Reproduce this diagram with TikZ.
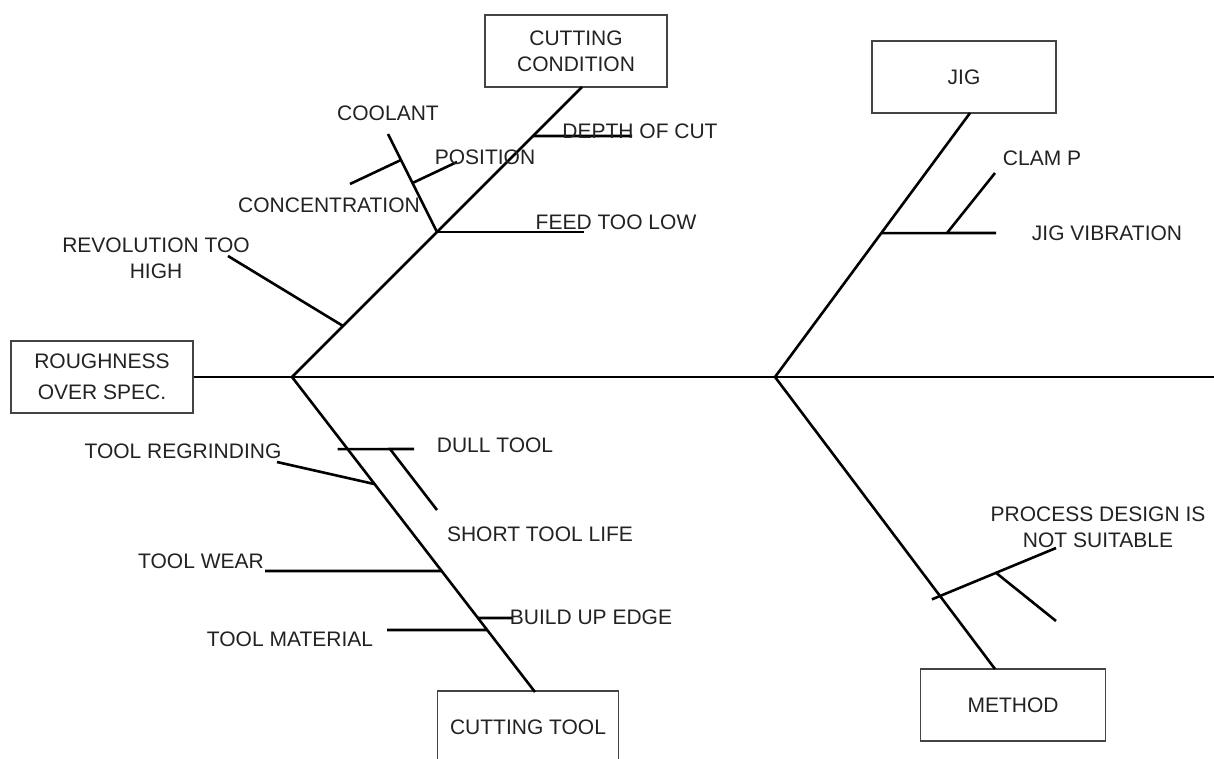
\documentclass[tikz,border=0pt]{standalone}
\usepackage{fontspec}
\setmainfont{Liberation Sans}
\usepackage{xcolor}
\usetikzlibrary{calc,positioning}
\definecolor{color_text_default}{HTML}{222222}
\definecolor{color_box_default}{HTML}{444444}

\tikzset{
	causebox/.style={draw=color_box_default,line width=1.1pt,minimum width=182,minimum height=72,align=center,inner sep=0pt,text=color_text_default},
	bone/.style={line width=2.6pt,black},
	lbl/.style={align=center,inner sep=0pt,text=color_text_default},
}

\begin{document}
\begin{tikzpicture}[x=1pt,y=-1pt,every node/.style={font=\fontsize{21}{26}\selectfont}]
				\useasboundingbox (0, 0) rectangle (1214, 759);
				% Boxes
				\node[causebox,font=\fontsize{21}{31}\selectfont] (effect) at (102, 377) {ROUGHNESS\\OVER SPEC.};
				\node[causebox] (cond) at (576, 51) {CUTTING\\CONDITION};
				\node[causebox,minimum width=184] (jig) at (964, 77) {JIG};
				\node[causebox,minimum width=181] (tool) at (528, 727) {CUTTING TOOL};
				\node[causebox,minimum width=185] (method) at (1013, 705) {METHOD};

				% Points
				\coordinate (J1) at (292, 377);
				\coordinate (J2) at (775, 377);
				\coordinate (TAIL) at (1214, 377);
				\coordinate (CCtop) at (582, 87);
				\coordinate (JGtop) at (970, 113);
				\coordinate (CTbot) at (535, 692);
				\coordinate (MEbot) at (995, 669);

				% Backbone
				\draw[bone] (effect.east) -- (TAIL);
				\draw[bone] (J1) -- (CCtop);
				\draw[bone] (J1) -- (CTbot);
				\draw[bone] (J2) -- (JGtop);
				\draw[bone] (J2) -- (MEbot);

				% Cutting condition
				\coordinate (REV) at ($(J1)!0.176!(CCtop)$);
				\coordinate (FEED) at ($(J1)!0.5!(CCtop)$);
				\coordinate (DEP) at ($(J1)!0.831!(CCtop)$);
				\coordinate (COOL) at (388, 134);
				\coordinate (CONC) at ($(FEED)!0.735!(COOL)$);
				\coordinate (POS) at ($(FEED)!0.5!(COOL)$);
				\draw[bone] (REV) -- (228, 256);
				\draw[bone] (FEED) -- (584, 232);
				\draw[bone] (DEP) -- (632, 136);
				\draw[bone] (FEED) -- (COOL);
				\draw[bone] (CONC) -- (350, 184);
				\draw[bone] (POS) -- (457, 162);
				\node[lbl] (coolant) at (388, 113) {COOLANT};
				\node[lbl] (position) at (485, 157) {POSITION};
				\node[lbl] (concentration) at (329, 205) {CONCENTRATION};
				\node[lbl] (depth) at (640, 131) {DEPTH OF CUT};
				\node[lbl] (feed) at (616, 222) {FEED TOO LOW};
				\node[lbl] (revolution) at (156, 258) {REVOLUTION TOO\\HIGH};

				% Jig
				\coordinate (VIB) at ($(J2)!0.545!(JGtop)$);
				\coordinate (CLP) at (947, 233);
				\draw[bone] (VIB) -- (996, 233);
				\draw[bone] (CLP) -- (995, 173);
				\node[lbl] (clamp) at (1042, 158) {CLAM P};
				\node[lbl] (vibration) at (1107, 233) {JIG VIBRATION};

				% Cutting tool
				\coordinate (DULL) at ($(J1)!0.229!(CTbot)$);
				\coordinate (SHORT) at (390, 449);
				\coordinate (REG) at ($(J1)!0.34!(CTbot)$);
				\coordinate (WEAR) at ($(J1)!0.616!(CTbot)$);
				\coordinate (BUILD) at ($(J1)!0.765!(CTbot)$);
				\coordinate (MAT) at ($(J1)!0.803!(CTbot)$);
				\draw[bone] ($(DULL)+(-10,0)$) -- (414, 449);
				\draw[bone] (SHORT) -- (437, 510);
				\draw[bone] (REG) -- (277, 462);
				\draw[bone] (WEAR) -- (265, 571);
				\draw[bone] (BUILD) -- (513, 618);
				\draw[bone] (MAT) -- (387, 630);
				\node[lbl] (dull) at (495, 445) {DULL TOOL};
				\node[lbl] (short) at (540, 534) {SHORT TOOL LIFE};
				\node[lbl] (regrind) at (183, 451) {TOOL REGRINDING};
				\node[lbl] (wear) at (201, 561) {TOOL WEAR};
				\node[lbl] (material) at (290, 639) {TOOL MATERIAL};
				\node[lbl] (buildup) at (591, 617) {BUILD UP EDGE};

				% Method
				\coordinate (PROC) at ($(J2)!0.75!(MEbot)$);
				\coordinate (PD1) at (1056, 548);
				\coordinate (NS) at ($(PROC)!0.483!(PD1)$);
				\draw[bone] ($(PROC)!-0.07!(PD1)$) -- (PD1);
				\draw[bone] (NS) -- (1056, 621);
				\node[lbl] (process) at (1098, 527) {PROCESS DESIGN IS\\NOT SUITABLE};
			\end{tikzpicture}
\end{document}
